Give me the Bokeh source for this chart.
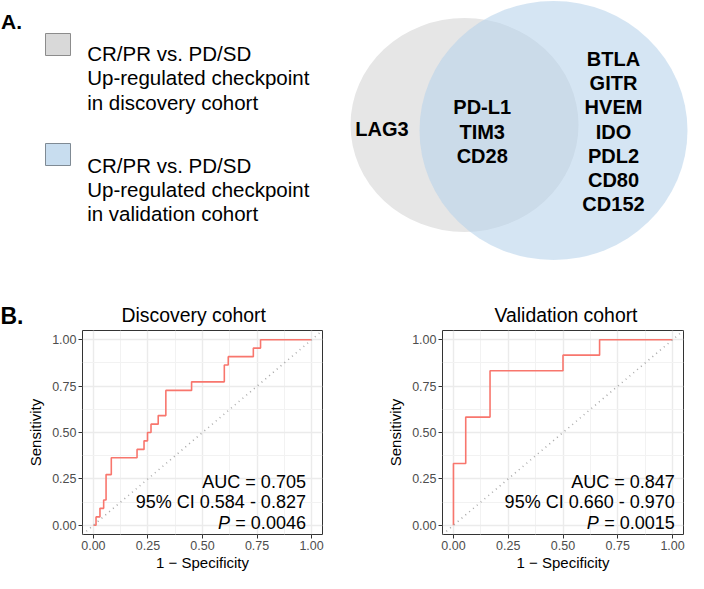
from bokeh.plotting import figure
from bokeh.models import Range1d, FixedTicker, NumeralTickFormatter, Slope, Label, Title
from bokeh.layouts import column, row
from bokeh.embed import file_html
from bokeh.resources import INLINE
from bokeh.core.properties import value

# ---------------- data ----------------
legend_lines_discovery = ["CR/PR vs. PD/SD", "Up-regulated checkpoint", "in discovery cohort"]
legend_lines_validation = ["CR/PR vs. PD/SD", "Up-regulated checkpoint", "in validation cohort"]
discovery_only = ["LAG3"]
shared = ["PD-L1", "TIM3", "CD28"]
validation_only = ["BTLA", "GITR", "HVEM", "IDO", "PDL2", "CD80", "CD152"]

disc_fpr = [0.0, 0.012, 0.03, 0.047, 0.058, 0.082, 0.2, 0.232, 0.248, 0.264, 0.297, 0.332, 0.45, 0.6, 0.618, 0.733, 0.766, 1.0]
disc_tpr = [0.0, 0.045, 0.091, 0.136, 0.273, 0.364, 0.409, 0.455, 0.5, 0.545, 0.591, 0.727, 0.773, 0.864, 0.909, 0.955, 1.0, 1.0]
val_fpr = [0.0, 0.0, 0.056, 0.167, 0.5, 0.667, 1.0]
val_tpr = [0.0, 0.333, 0.583, 0.833, 0.917, 1.0, 1.0]

disc_stats = ["AUC = 0.705", "95% CI 0.584 - 0.827", "0.0046"]
val_stats = ["AUC = 0.847", "95% CI 0.660 - 0.970", "0.0015"]
ticks = [0.0, 0.25, 0.5, 0.75, 1.0]
minor_ticks = [0.125, 0.375, 0.625, 0.875]

FONT = "Liberation Sans"
RED = "#F8766D"
TOP_H = 296
BOT_H = 277
B_W = 24

# ---------------- panel A (Venn) ----------------
top = figure(width=688, height=TOP_H, x_range=Range1d(0, 688), y_range=Range1d(TOP_H, 0),
             output_backend="svg", toolbar_location=None, min_border=0)
top.axis.visible = False
top.grid.visible = False
top.outline_line_color = None

top.text(x=[0.5], y=[21], text=["A."], text_font=value(FONT), text_font_style="bold",
         text_font_size="21px", text_baseline="alphabetic", text_color="black")

top.quad(left=[45], right=[70], top=[33], bottom=[55], fill_color="#D9D9D9", line_color="#8C8C8C", line_width=1)
top.quad(left=[45], right=[70], top=[143], bottom=[165], fill_color="#C8DDEF", line_color="#7F8A94", line_width=1)
for i, t in enumerate(legend_lines_discovery):
    top.text(x=[86.7], y=[52.7 + 24.5 * i], text=[t], text_font=value(FONT), text_font_size="20.5px",
             text_baseline="alphabetic", text_color="black")
for i, t in enumerate(legend_lines_validation):
    top.text(x=[86.7], y=[165 + 24.2 * i], text=[t], text_font=value(FONT), text_font_size="20.5px",
             text_baseline="alphabetic", text_color="black")

top.ellipse(x=[464], y=[124.5], width=[228], height=[214], fill_color="#E6E6E6", line_color=None)
top.ellipse(x=[553], y=[130], width=[268], height=[259], fill_color="#B7D2EA", fill_alpha=0.58, line_color=None)

def col_text(names, xc, yc, sp=24.3):
    n = len(names)
    ys = [yc + (i - (n - 1) / 2) * sp for i in range(n)]
    top.text(x=[xc] * n, y=ys, text=names, text_font=value(FONT), text_font_style="bold",
             text_font_size="20px", text_align="center", text_baseline="middle", text_color="black")

col_text(discovery_only, 381.5, 128.5)
col_text(shared, 481.7, 131)
col_text(validation_only, 613, 131)

# ---------------- "B." panel label (as a title of a narrow empty figure) ----------------
bfig = figure(width=B_W, height=BOT_H, x_range=Range1d(0, 1), y_range=Range1d(0, 1),
              output_backend="svg", toolbar_location=None,
              min_border_left=0, min_border_right=0, min_border_top=34, min_border_bottom=30)
bfig.axis.visible = False
bfig.grid.visible = False
bfig.outline_line_color = None
bfig.add_layout(Title(text="B.", align="left", offset=0, text_font=FONT, text_font_size="23px",
                      text_font_style="bold", text_color="black", standoff=4), "above")

# ---------------- panel B (ROC) ----------------
def roc_fig(title, fpr, tpr, stats, width, left_border, right_border, title_offset, stat_x):
    p = figure(width=width, height=BOT_H, x_range=Range1d(-0.05, 1.05), y_range=Range1d(-0.05, 1.05),
               output_backend="svg", toolbar_location=None,
               min_border_left=left_border, min_border_right=right_border,
               min_border_top=34, min_border_bottom=30)
    p.add_layout(Title(text=title, align="left", offset=title_offset, text_font=FONT,
                       text_font_size="19.4px", text_font_style="normal", text_color="black",
                       standoff=10), "above")
    for ax in (p.xaxis, p.yaxis):
        ax.ticker = FixedTicker(ticks=ticks, minor_ticks=minor_ticks)
        ax.formatter = NumeralTickFormatter(format="0.00")
        ax.axis_line_color = None
        ax.major_tick_line_color = "#333333"
        ax.major_tick_out = 4
        ax.major_tick_in = 0
        ax.minor_tick_line_color = None
        ax.major_label_text_color = "#4D4D4D"
        ax.major_label_text_font = FONT
        ax.major_label_text_font_size = "12.5px"
        ax.major_label_standoff = 2
        ax.axis_label_text_font = FONT
        ax.axis_label_text_font_size = "15px"
        ax.axis_label_text_font_style = "normal"
        ax.axis_label_text_color = "black"
    p.xaxis.axis_label_standoff = 1
    p.yaxis.axis_label_standoff = 5
    p.xaxis.axis_label = "1 \u2212 Specificity"
    p.yaxis.axis_label = "Sensitivity"
    p.grid.grid_line_color = "#EBEBEB"
    p.grid.grid_line_width = 1.4
    p.grid.minor_grid_line_color = "#F2F2F2"
    p.grid.minor_grid_line_width = 1
    p.outline_line_color = "#333333"
    p.outline_line_width = 1
    p.add_layout(Slope(gradient=1, y_intercept=0, line_color="#ABABAB", line_dash="1 4", line_width=1.6))
    p.step(fpr, tpr, mode="after", line_color=RED, line_width=1.6)
    ys = [0.235, 0.124, 0.013]
    p.add_layout(Label(x=stat_x, y=ys[0], text=stats[0], text_align="right", text_font=FONT,
                       text_font_size="18px", text_baseline="alphabetic", text_color="black"))
    p.add_layout(Label(x=stat_x, y=ys[1], text=stats[1], text_align="right", text_font=FONT,
                       text_font_size="18px", text_baseline="alphabetic", text_color="black"))
    p.add_layout(Label(x=stat_x, y=ys[2], text="= " + stats[2], text_align="right", text_font=FONT,
                       text_font_size="18px", text_baseline="alphabetic", text_color="black"))
    p.add_layout(Label(x=stat_x, y=ys[2], x_offset=-76, text="P", text_align="right", text_font=FONT,
                       text_font_size="18px", text_font_style="italic", text_baseline="alphabetic",
                       text_color="black"))
    return p

left = roc_fig("Discovery cohort", disc_fpr, disc_tpr, disc_stats, 344 - B_W, 80 - B_W, 22, 39, 0.974)
right = roc_fig("Validation cohort", val_fpr, val_tpr, val_stats, 344, 98, 5, 52, 1.01)

layout = column(top, row(bfig, left, right, spacing=0), spacing=0)
open("out.html", "w").write(file_html(layout, INLINE))
